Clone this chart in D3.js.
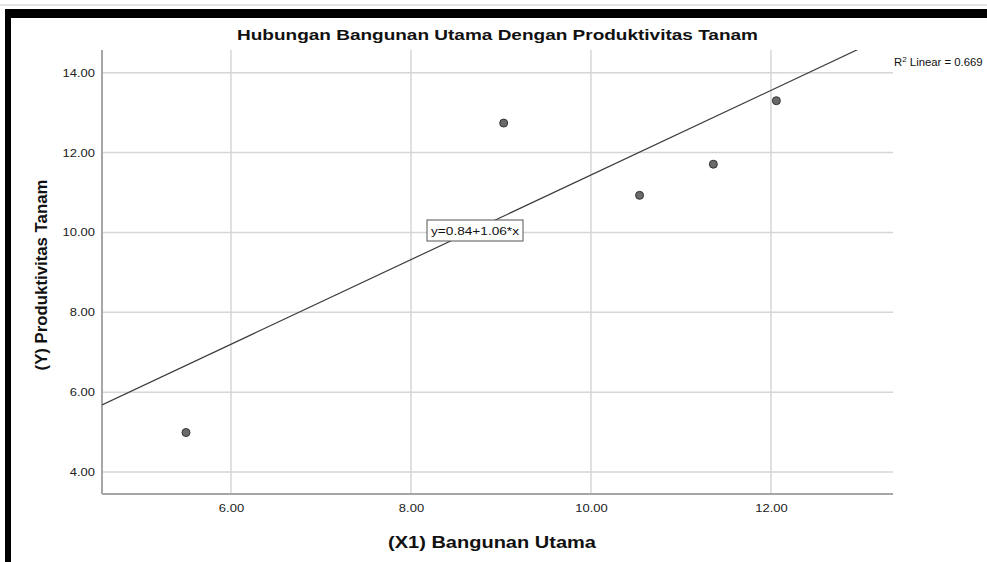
<!DOCTYPE html>
<html>
<head>
<meta charset="utf-8">
<script src="https://cdn.jsdelivr.net/npm/d3@7"></script>
<style>
  body { margin: 0; background: #fff; }
  svg { display: block; font-family: "Liberation Sans", Arial, sans-serif; }
</style>
</head>
<body>
<script>
// values
var bangunan = [5.5, 9.03, 10.54, 11.36, 12.06];
var produktivitas = [4.99, 12.74, 10.93, 11.71, 13.3];
var xTicks = [6, 8, 10, 12];
var yTicks = [4, 6, 8, 10, 12, 14];
var fitA = 0.84, fitB = 1.06, r2 = 0.669;

var width = 987, height = 562;
var plot = {left: 102, right: 893, top: 50, bottom: 494};
var stretch = 1.18; // the pasted screenshot is a bit wider than tall

var svg = d3.select("body").append("svg")
    .attr("width", width)
    .attr("height", height);

// frame of the document page the chart was cut from
svg.append("line").attr("x1", 0).attr("x2", width).attr("y1", 5).attr("y2", 5)
    .attr("stroke", "#c8c8c8").attr("stroke-width", 1);
svg.append("rect").attr("x", 5).attr("y", 9).attr("width", width - 5).attr("height", 9).attr("fill", "#000");
svg.append("rect").attr("x", 5).attr("y", 9).attr("width", 6).attr("height", height - 9).attr("fill", "#000");

var x = d3.scaleLinear().domain([4.567, 13.356]).range([plot.left, plot.right]);
var y = d3.scaleLinear().domain([3.45, 14.57]).range([plot.bottom, plot.top]);

// grid
svg.append("g").selectAll("line").data(xTicks).enter().append("line")
    .attr("x1", function(d) { return x(d); }).attr("x2", function(d) { return x(d); })
    .attr("y1", plot.top).attr("y2", plot.bottom)
    .attr("stroke", "#d6d6d6").attr("stroke-width", 1.5);
svg.append("g").selectAll("line").data(yTicks).enter().append("line")
    .attr("x1", plot.left).attr("x2", plot.right)
    .attr("y1", function(d) { return y(d); }).attr("y2", function(d) { return y(d); })
    .attr("stroke", "#d6d6d6").attr("stroke-width", 1.5);

// axes
var xAxis = svg.append("g").attr("transform", "translate(0," + plot.bottom + ")")
    .call(d3.axisBottom(x).tickValues(xTicks).tickSize(0).tickPadding(10).tickFormat(d3.format(".2f")));
var yAxis = svg.append("g").attr("transform", "translate(" + plot.left + ",0)")
    .call(d3.axisLeft(y).tickValues(yTicks).tickSize(0).tickPadding(7).tickFormat(d3.format(".2f")));
[xAxis, yAxis].forEach(function(a) {
  a.select(".domain").attr("stroke", "#a6a6a6").attr("stroke-width", 2);
  a.selectAll("text").attr("font-size", 11).attr("fill", "#222")
      .attr("font-family", "Liberation Sans, Arial, sans-serif")
      .attr("transform", "scale(" + stretch + ",1)");
});
yAxis.selectAll("text").attr("x", -7 / stretch);
yAxis.select(".domain").attr("d", "M0," + plot.bottom + "V" + plot.top);
xAxis.select(".domain").attr("d", "M" + plot.left + ",0H" + plot.right);

// fit line, clipped to plot
svg.append("clipPath").attr("id", "clip").append("rect")
    .attr("x", plot.left).attr("y", plot.top)
    .attr("width", plot.right - plot.left).attr("height", plot.bottom - plot.top);
var x0 = x.domain()[0], x1 = x.domain()[1];
svg.append("line").attr("clip-path", "url(#clip)")
    .attr("x1", x(x0)).attr("y1", y(fitA + fitB * x0))
    .attr("x2", x(x1)).attr("y2", y(fitA + fitB * x1))
    .attr("stroke", "#3c3c3c").attr("stroke-width", 1.2);

// points
svg.append("g").selectAll("circle").data(bangunan).enter().append("circle")
    .attr("cx", function(d) { return x(d); })
    .attr("cy", function(d, i) { return y(produktivitas[i]); })
    .attr("r", 4)
    .attr("fill", "#6b6b6b").attr("stroke", "#333").attr("stroke-width", 1);

// equation label
var eq = svg.append("g").attr("transform", "translate(427,220)");
eq.append("rect").attr("width", 96).attr("height", 21)
    .attr("fill", "#fff").attr("stroke", "#555").attr("stroke-width", 1);
eq.append("text").attr("x", 4).attr("y", 15).attr("font-size", 11.5).attr("fill", "#111")
    .attr("textLength", 88).attr("lengthAdjust", "spacingAndGlyphs")
    .text("y=" + fitA.toFixed(2) + "+" + fitB.toFixed(2) + "*x");

// R2 label (squeezed a little so it stays inside the page)
var rt = svg.append("text").attr("transform", "translate(894,66) scale(1.08,1)")
    .attr("font-size", 10.5).attr("fill", "#111");
rt.append("tspan").text("R");
rt.append("tspan").attr("dy", -4).attr("font-size", 7.5).text("2");
rt.append("tspan").attr("dy", 4).text(" Linear = " + r2.toFixed(3));

// titles
svg.append("text").attr("x", 237).attr("y", 40)
    .attr("font-size", 15).attr("font-weight", "bold").attr("fill", "#111")
    .attr("textLength", 521).attr("lengthAdjust", "spacingAndGlyphs")
    .text("Hubungan Bangunan Utama Dengan Produktivitas Tanam");
svg.append("text").attr("x", 388).attr("y", 548)
    .attr("font-size", 16.8).attr("font-weight", "bold").attr("fill", "#111")
    .attr("textLength", 208).attr("lengthAdjust", "spacingAndGlyphs")
    .text("(X1) Bangunan Utama");
svg.append("text").attr("transform", "translate(47,275) rotate(-90)").attr("text-anchor", "middle")
    .attr("font-size", 16.8).attr("font-weight", "bold").attr("fill", "#111")
    .text("(Y) Produktivitas Tanam");
</script>
</body>
</html>
